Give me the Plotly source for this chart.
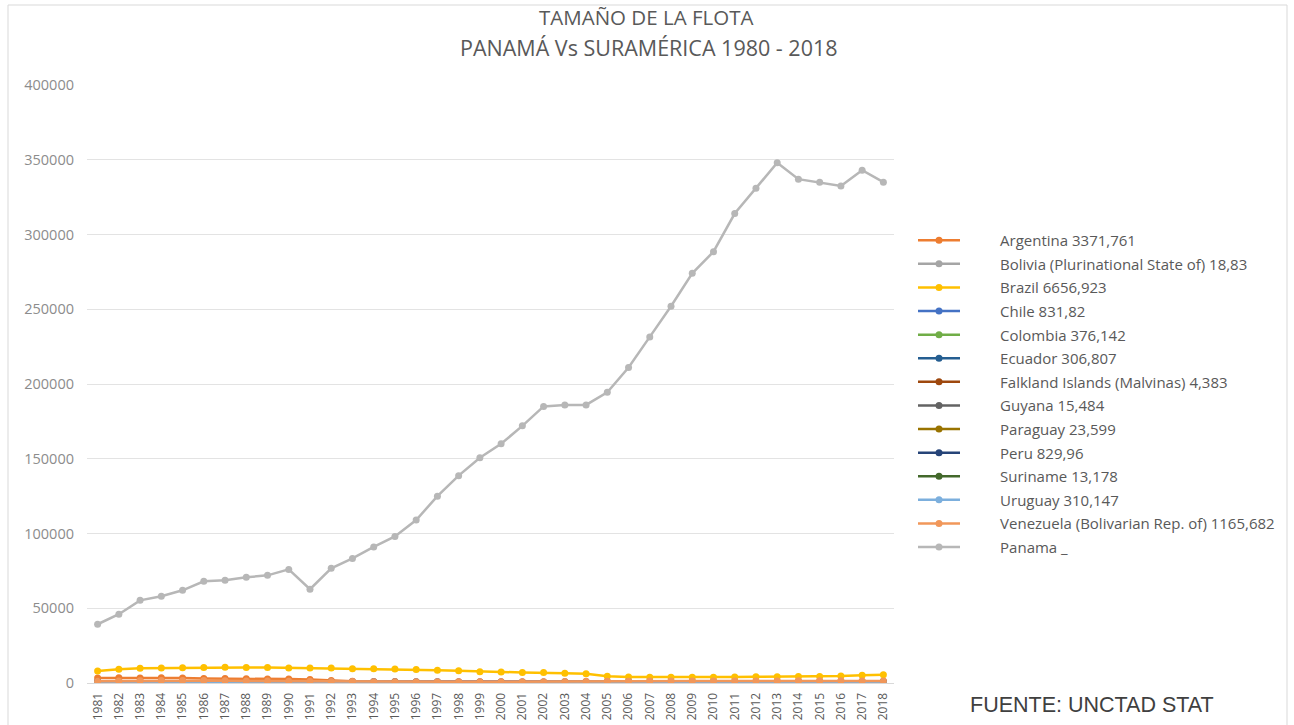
import plotly.graph_objects as go

years = [str(y) for y in range(1981, 2019)]

panama = [39300, 46000, 55300, 58000, 62000, 68000, 68700, 70700, 72000, 76000,
          62700, 76700, 83300, 91000, 98000, 109000, 125000, 138700, 150700, 160000,
          172000, 185000, 186000, 186000, 194500, 211000, 231500, 252000, 274000, 288500,
          314000, 331000, 348000, 337000, 335000, 332500, 343000, 335000]

argentina = [3400, 3500, 3400, 3500, 3400, 3000, 3000, 2800, 2700, 2600,
             2300, 1700, 1100, 1000, 1000, 900, 900, 900, 800, 800,
             700, 700, 600, 600, 600, 600, 600, 600, 700, 700,
             800, 900, 900, 1000, 1000, 1100, 1100, 1200]
bolivia = [19, 19, 20, 22, 24, 24, 25, 25, 26, 27, 26, 25, 24, 23, 22, 20, 18, 15, 12, 10,
           8, 6, 5, 5, 4, 4, 3, 3, 3, 2, 2, 2, 2, 2, 2, 2, 2, 2]
brazil = [8000, 9200, 9800, 10000, 10200, 10400, 10600, 10400, 10300, 10100,
          10000, 10000, 9600, 9500, 9400, 9000, 8600, 8200, 7600, 7400,
          7100, 7000, 6600, 6200, 4500, 4000, 3900, 3800, 3800, 3900,
          4000, 4100, 4200, 4300, 4400, 4600, 5200, 5600]
chile = [830, 800, 750, 700, 700, 650, 600, 600, 650, 700, 750, 800, 850, 900, 900, 850,
         800, 750, 700, 700, 700, 750, 800, 850, 900, 950, 1000, 1000, 950, 900, 900, 850,
         850, 800, 800, 800, 800, 800]
colombia = [380, 400, 450, 500, 520, 500, 480, 450, 420, 400, 380, 300, 250, 200, 180, 170,
            160, 150, 140, 130, 120, 110, 100, 100, 100, 100, 100, 110, 110, 110, 120, 120,
            120, 130, 130, 130, 130, 140]
ecuador = [310, 350, 400, 420, 430, 440, 450, 450, 440, 430, 420, 400, 380, 360, 340, 320,
           300, 280, 270, 260, 250, 250, 260, 270, 280, 290, 300, 310, 320, 330, 340, 350,
           360, 370, 380, 390, 400, 410]
falkland = [4, 4, 4, 5, 5, 5, 6, 6, 6, 7, 7, 7, 8, 8, 9, 9, 10, 10, 11, 11, 12, 12, 12, 13,
            13, 14, 14, 15, 15, 16, 16, 17, 17, 18, 18, 19, 19, 20]
guyana = [15, 15, 16, 16, 17, 17, 18, 18, 18, 19, 19, 20, 20, 21, 21, 22, 22, 23, 23, 24,
          24, 25, 25, 26, 27, 28, 30, 32, 34, 36, 38, 40, 42, 44, 46, 48, 50, 52]
paraguay = [24, 25, 28, 30, 33, 35, 36, 38, 41, 43, 44, 47, 50, 49, 52, 55, 57, 58, 60, 63,
            62, 64, 66, 70, 72, 75, 78, 80, 86, 90, 95, 98, 100, 105, 110, 118, 125, 130]
peru = [830, 850, 870, 850, 800, 750, 700, 650, 600, 550, 500, 450, 400, 350, 300, 250,
        250, 250, 300, 300, 300, 350, 350, 400, 400, 400, 450, 450, 450, 500, 500, 500,
        550, 550, 550, 550, 550, 550]
suriname = [13, 13, 14, 14, 15, 15, 15, 16, 16, 16, 17, 17, 16, 16, 15, 15, 14, 14, 13, 13,
            12, 12, 11, 11, 10, 10, 10, 9, 9, 9, 8, 8, 8, 8, 8, 8, 8, 8]
uruguay = [310, 300, 290, 280, 270, 260, 250, 240, 230, 220, 200, 180, 160, 150, 140, 130,
           120, 110, 100, 90, 80, 80, 80, 80, 80, 80, 90, 90, 90, 100, 100, 100, 100, 110,
           110, 110, 110, 110]
venezuela = [1200, 1300, 1500, 1600, 1600, 1600, 1500, 1400, 1300, 1200, 1100, 1000, 1000,
             900, 900, 900, 800, 800, 800, 800, 900, 900, 1000, 1100, 1200, 1200, 1300,
             1300, 1300, 1400, 1400, 1400, 1400, 1500, 1500, 1500, 1400, 1400]

series_names = ["Argentina 3371,761", "Bolivia (Plurinational State of) 18,83",
                "Brazil 6656,923", "Chile 831,82", "Colombia 376,142", "Ecuador 306,807",
                "Falkland Islands (Malvinas) 4,383", "Guyana 15,484", "Paraguay 23,599",
                "Peru 829,96", "Suriname 13,178", "Uruguay 310,147",
                "Venezuela (Bolivarian Rep. of) 1165,682", "Panama _"]
series_values = [argentina, bolivia, brazil, chile, colombia, ecuador, falkland, guyana,
                 paraguay, peru, suriname, uruguay, venezuela, panama]
series_colors = ["#ED7D31", "#A5A5A5", "#FFC000", "#4472C4", "#70AD47", "#255E91",
                 "#9E480E", "#636363", "#997300", "#264478", "#43682B", "#7CAFDD",
                 "#F1975A", "#B7B7B7"]

title_lines = ["TAMAÑO DE LA FLOTA", "PANAMÁ Vs SURAMÉRICA 1980 - 2018"]
source_text = "FUENTE: UNCTAD STAT"

W, H = 1294, 725
L, R, T, B = 87, 400, 85, 42
pw, ph = W - L - R, H - T - B

PAD = "\u00a0" * 9

fig = go.Figure()
for name, vals, col in zip(series_names, series_values, series_colors):
    fig.add_trace(go.Scatter(
        x=years, y=vals, name=PAD + name, mode="lines+markers",
        line=dict(color=col, width=2.5),
        marker=dict(color=col, size=7, symbol="circle"),
        legendgroup=name,
    ))


def px_x(p):
    return (p - L) / pw


def px_y(p):
    return (H - B - p) / ph


fig.update_layout(
    width=W, height=H,
    margin=dict(l=L, r=R, t=T, b=B, autoexpand=False),
    paper_bgcolor="white", plot_bgcolor="white",
    showlegend=True,
    legend=dict(x=px_x(913), xanchor="left", y=px_y(224), yanchor="top",
                font=dict(family="Open Sans", size=15, color="#595959"),
                itemwidth=42, tracegroupgap=1.1, bgcolor="rgba(0,0,0,0)"),
    xaxis=dict(type="category", tickangle=-90, showgrid=False,
               range=[-0.5, len(years) - 0.5],
               showline=True, linecolor="#D9D9D9", linewidth=1,
               ticks="", ticklabelstandoff=4,
               tickfont=dict(family="Open Sans", size=12, color="#595959")),
    yaxis=dict(range=[0, 400000], dtick=50000, showgrid=True, gridcolor="#E3E3E3",
               gridwidth=1, zeroline=False, showline=False, ticks="",
               tickformat="d", ticklabelstandoff=12,
               tickfont=dict(family="Open Sans", size=14.5, color="#8C8C8C")),
    annotations=[
        dict(text=title_lines[0], xref="paper", yref="paper",
             x=px_x(646), y=px_y(17), xanchor="center", yanchor="middle",
             showarrow=False, font=dict(family="Open Sans", size=20.5, color="#595959")),
        dict(text=title_lines[1], xref="paper", yref="paper",
             x=px_x(649), y=px_y(47), xanchor="center", yanchor="middle",
             showarrow=False, font=dict(family="Open Sans", size=21.5, color="#595959")),
        dict(text=source_text, xref="paper", yref="paper",
             x=px_x(1092), y=px_y(705), xanchor="center", yanchor="middle",
             showarrow=False,
             font=dict(family="Liberation Sans", size=21.5, color="#404040")),
    ],
    shapes=[dict(type="rect", xref="paper", yref="paper",
                 x0=px_x(8), x1=px_x(1287), y0=px_y(740), y1=px_y(5),
                 line=dict(color="#D9D9D9", width=1), fillcolor="rgba(0,0,0,0)",
                 layer="below")],
)

fig.write_html("out.html", config={"displayModeBar": False},
               post_script="document.body.style.margin='0';")
